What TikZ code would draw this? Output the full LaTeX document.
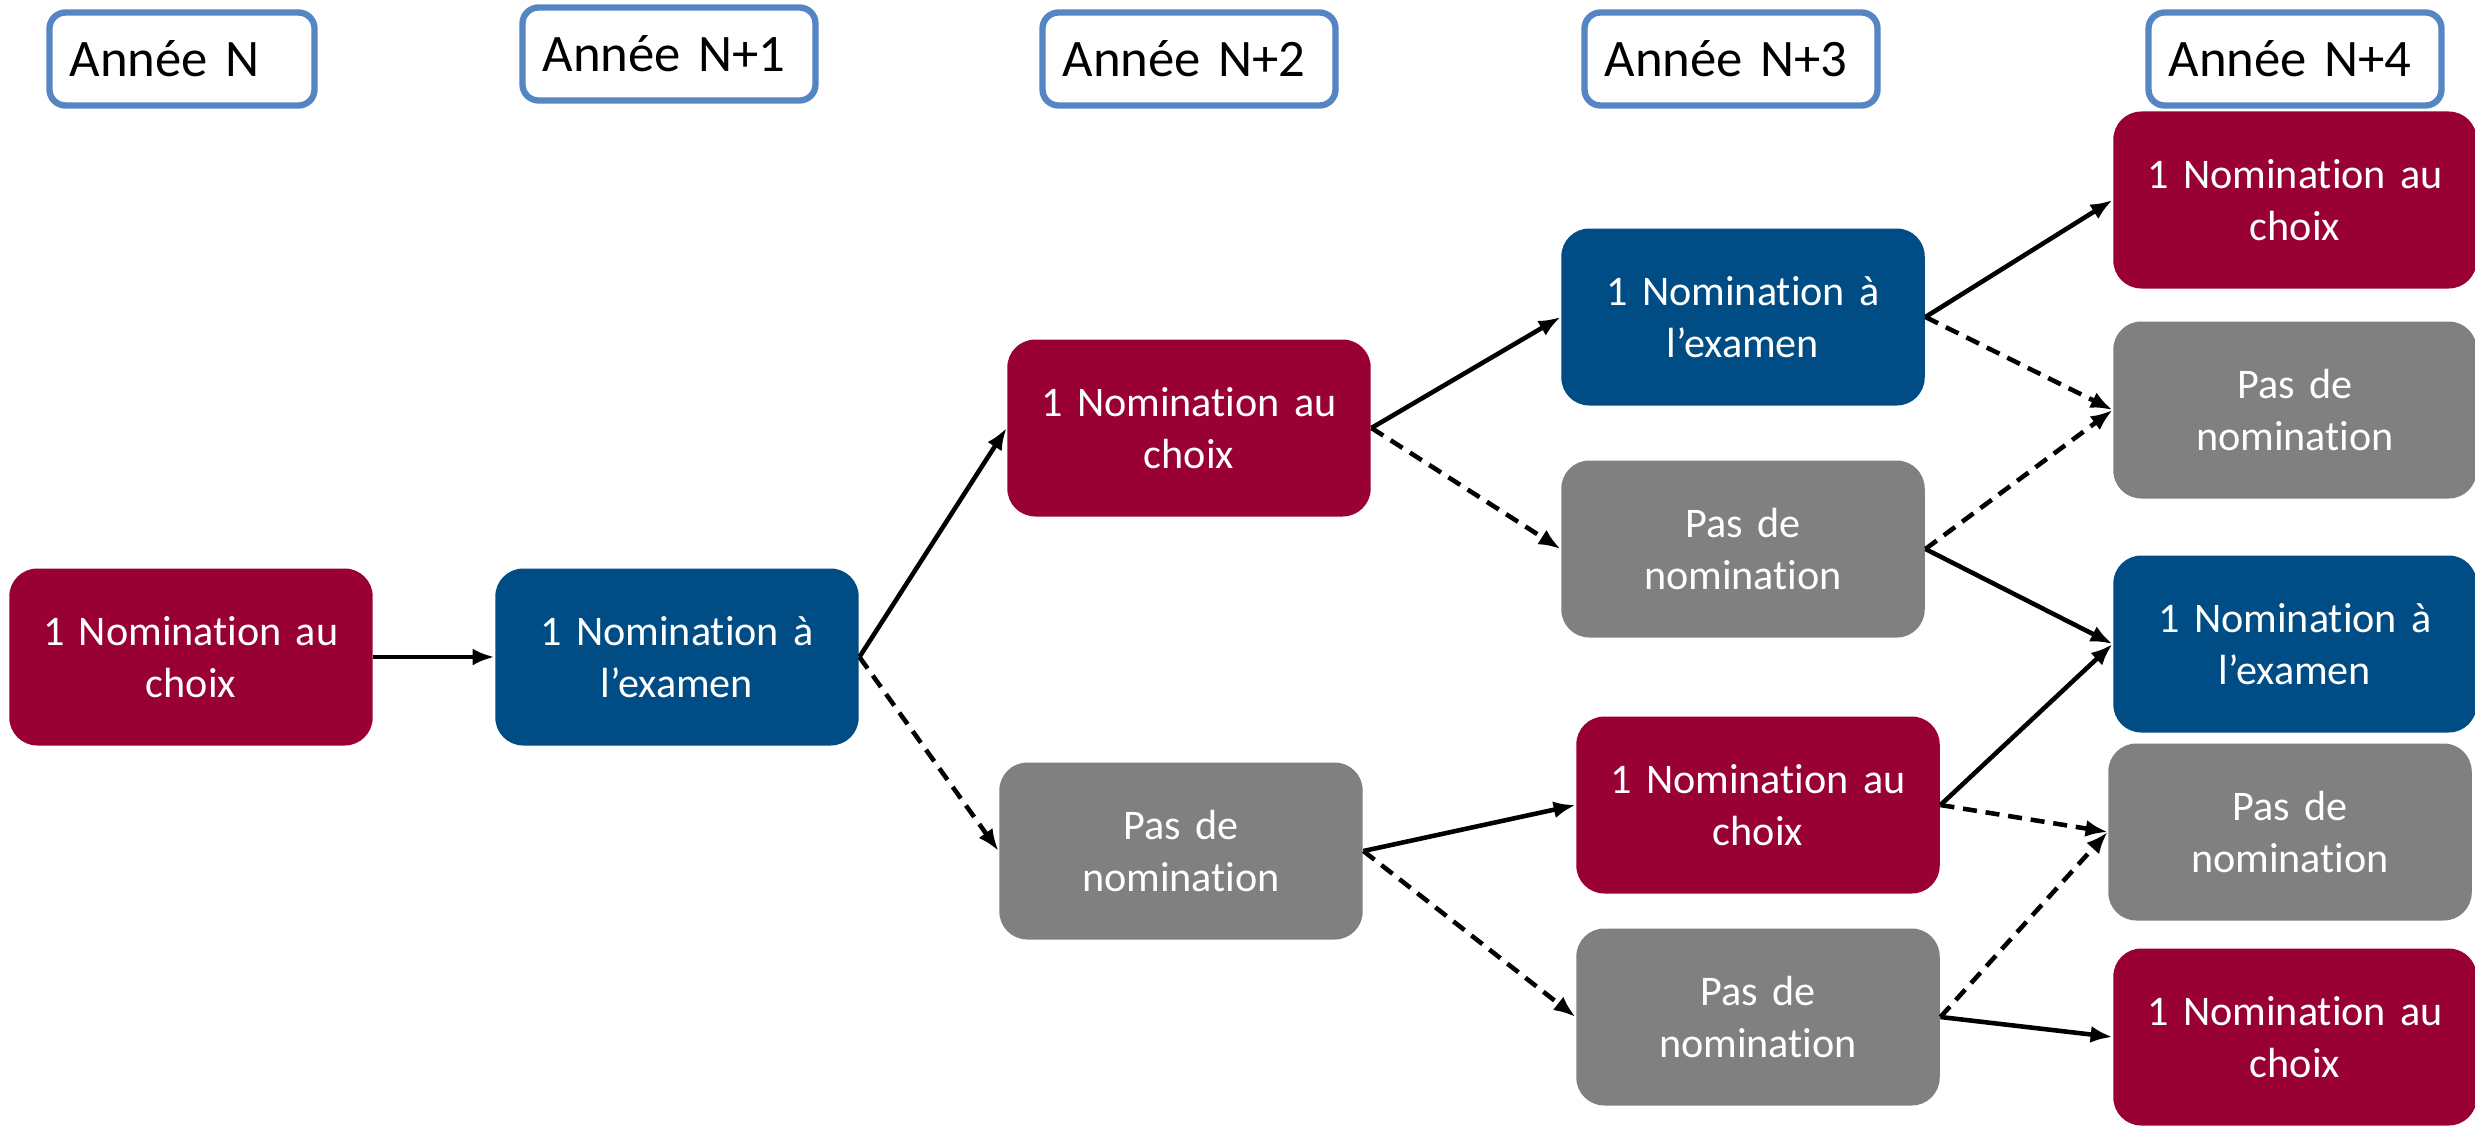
\documentclass[tikz,border=0pt]{standalone}
\usepackage{fontspec}
\setmainfont[Ligatures=NoCommon]{Carlito}
\usetikzlibrary{arrows.meta}

\definecolor{choixred}{HTML}{990033}
\definecolor{examblue}{HTML}{004C84}
\definecolor{nonegray}{HTML}{808080}
\definecolor{hdrblue}{HTML}{5585C2}

\begin{document}
\begin{tikzpicture}[
    box node/.style={rounded corners=0.28cm,minimum width=3.63cm,minimum height=1.77cm,
        text width=3.4cm,align=center,text=white,font=\fontsize{12}{14.6}\selectfont},
    choix/.style={box node,fill=choixred},
    exam/.style={box node,fill=examblue},
    none/.style={box node,fill=nonegray},
    year node/.style={draw=hdrblue,line width=1.8pt,rounded corners=0.16cm,
        minimum height=0.93cm,inner xsep=0.2cm,text width=2.53cm,align=left,
        font=\fontsize{15}{18}\selectfont},
    arrow/.style={line width=1.3pt,-{Latex[length=2.2mm,width=1.7mm]}},
    maybe/.style={arrow,dash pattern=on 4pt off 2.5pt}
]
    \useasboundingbox (0,0) rectangle (24.75,-11.26);

    % headers
    \node[year node,text width=2.25cm] (h0) at (1.82,-0.59) {Année N};
    \node[year node] (h1) at (6.69,-0.54) {Année N+1};
    \node[year node] (h2) at (11.89,-0.59) {Année N+2};
    \node[year node] (h3) at (17.31,-0.59) {Année N+3};
    \node[year node] (h4) at (22.95,-0.59) {Année N+4};

    \node[choix] (1) at (1.91,-6.57) {1 Nomination au\\choix};
    \node[exam] (2) at (6.77,-6.57) {1 Nomination à\\l’examen};

    \node[choix] (3) at (11.89,-4.28) {1 Nomination au\\choix};
    \node[none] (4) at (11.81,-8.51) {Pas de\\nomination};

    \node[exam] (5) at (17.43,-3.17) {1 Nomination à\\l’examen};
    \node[none] (6) at (17.43,-5.49) {Pas de\\nomination};
    \node[choix] (7) at (17.58,-8.05) {1 Nomination au\\choix};
    \node[none] (8) at (17.58,-10.17) {Pas de\\nomination};

    \node[choix] (9) at (22.95,-2.00) {1 Nomination au\\choix};
    \node[none] (10) at (22.95,-4.10) {Pas de\\nomination};
    \node[exam] (11) at (22.95,-6.44) {1 Nomination à\\l’examen};
    \node[none] (12) at (22.90,-8.32) {Pas de\\nomination};
    \node[choix] (13) at (22.95,-10.37) {1 Nomination au\\choix};

  \draw[arrow] (1.east) -- (2.west);
  \draw[arrow] (2.east) -- (3.west);
  \draw[maybe] (2.east) -- (4.west);
  \draw[arrow] (3.east) -- (5.west);
  \draw[maybe] (3.east) -- (6.west);
  \draw[arrow] (4.east) -- (7.west);
  \draw[maybe] (4.east) -- (8.west);
  \draw[arrow] (5.east) -- (9.west);
  \draw[maybe] (5.east) -- (10.west);
  \draw[maybe] (6.east) -- (10.west);
  \draw[arrow] (6.east) -- (11.west);
  \draw[arrow] (7.east) -- (11.west);
  \draw[maybe] (7.east) -- (12.west);
  \draw[maybe] (8.east) -- (12.west);
  \draw[arrow] (8.east) -- (13.west);
\end{tikzpicture}
\end{document}
